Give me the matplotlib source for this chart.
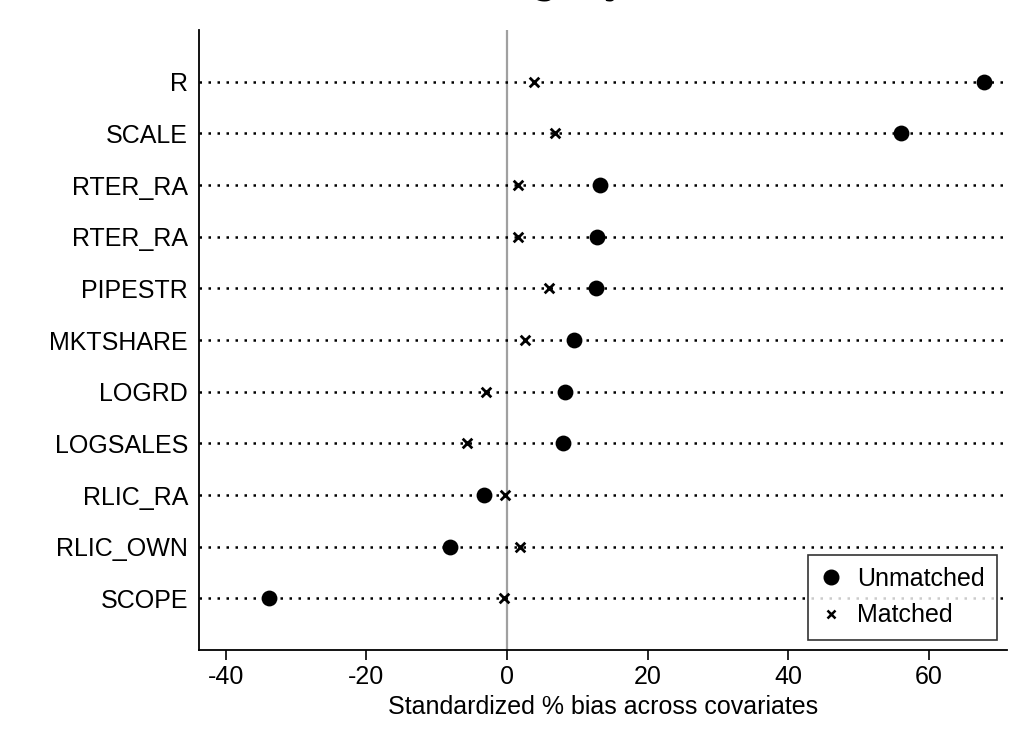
import matplotlib
matplotlib.use("Agg")
import matplotlib.pyplot as plt
from matplotlib.lines import Line2D
import numpy as np

plt.rcParams['font.family'] = ['Liberation Sans', 'DejaVu Sans']

variables = ["R", "SCALE", "RTER_RA", "RTER_RA", "PIPESTR", "MKTSHARE",
             "LOGRD", "LOGSALES", "RLIC_RA", "RLIC_OWN", "SCOPE"]
unmatched = [67.8, 56.0, 13.2, 12.8, 12.6, 9.5, 8.3, 8.0, -3.3, -8.1, -33.8]
matched = [3.8, 6.8, 1.5, 1.5, 6.0, 2.6, -3.0, -5.7, -0.3, 1.9, -0.4]
xticks = [-40, -20, 0, 20, 40, 60]

FS = 18

fig = plt.figure(figsize=(10.30, 7.49), dpi=100)
ax = fig.add_axes([199/1030, 1 - 650/749, (1007 - 199)/1030, (650 - 30)/749])

n = len(variables)
ypos = np.arange(n, 0, -1)

for y in ypos:
    ax.axhline(y, color='black', lw=1.8, linestyle=(0, (1, 2.6)), zorder=1)
ax.axvline(0, color='#a0a0a0', lw=1.6, zorder=0)

ax.scatter(unmatched, ypos, marker='o', s=130, color='black', zorder=3, linewidths=0)
ax.scatter(matched, ypos, marker='x', s=48, color='black', zorder=3, linewidths=2.0)

ax.set_xlim(-43.8, 71.1)
ax.set_ylim(0, n + 1)
ax.set_yticks(ypos)
ax.set_yticklabels(variables, fontsize=FS)
ax.set_xticks(xticks)
ax.set_xticklabels([str(t) for t in xticks], fontsize=FS)
ax.tick_params(axis='y', length=0, pad=8)
ax.tick_params(axis='x', length=7, width=1.2, pad=4, direction='out')

for s in ['top', 'right']:
    ax.spines[s].set_visible(False)
for s in ['left', 'bottom']:
    ax.spines[s].set_linewidth(1.3)

ax.set_xlabel("Standardized % bias across covariates", fontsize=FS, labelpad=4)

handles = [Line2D([], [], marker='o', color='black', linestyle='none', markersize=10.5),
           Line2D([], [], marker='x', color='black', linestyle='none', markersize=6, markeredgewidth=1.8)]
leg = ax.legend(handles, ["Unmatched", "Matched"], loc='lower right',
                bbox_to_anchor=((997 - 199)/808, (650 - 640)/620), bbox_transform=ax.transAxes,
                borderaxespad=0, fontsize=FS, frameon=True, fancybox=False, handlelength=0.8,
                handletextpad=0.65, borderpad=0.5, labelspacing=0.5)
leg.get_frame().set_edgecolor('black')
leg.get_frame().set_linewidth(1.2)

fig.text(0.521, 1.0 + 8/749, "category", ha='center', va='baseline',
         fontsize=30, family='DejaVu Serif')

fig.savefig("out.png", dpi=100)
